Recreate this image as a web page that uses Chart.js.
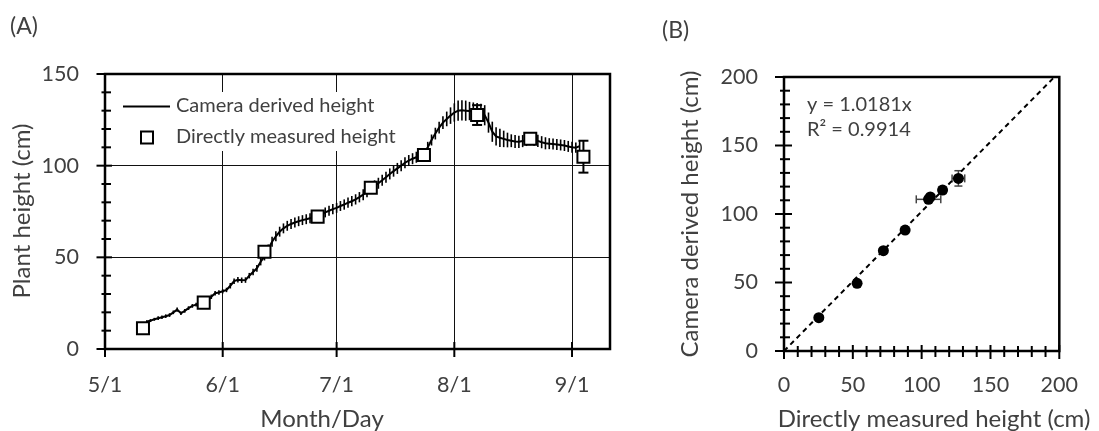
<!DOCTYPE html>
<html><head><meta charset="utf-8">
<script src="https://cdn.jsdelivr.net/npm/chart.js@4.4.0/dist/chart.umd.min.js"></script>
<style>
html,body{margin:0;padding:0;background:#fff;}
#wrap{position:relative;width:1099px;height:431px;overflow:hidden;background:#fff;}
canvas{position:absolute;top:0;}
#ca{left:0;} #cb{left:640px;}
</style></head><body>
<div id="wrap"><canvas id="ca" width="640" height="431"></canvas><canvas id="cb" width="459" height="431"></canvas></div>
<script>
// ---------- DATA ----------
// Panel A: x axis = days since 5/1
const monthTickDays = [0, 31, 61, 92, 123];
const monthTickLabels = ['5/1', '6/1', '7/1', '8/1', '9/1'];
const yTicksA = [0, 50, 100, 150];
const cameraStartDay = 11; // 5/12, one value per day
const cameraHeight = [
  14.9,15.5,16.2,16.8,17.3,17.9,18.5,20.0,21.5,19.5,
  20.8,22.3,23.5,24.2,25.0,25.6,26.5,28.5,30.4,30.8,
  31.5,32.2,34.5,37.0,37.8,37.5,37.6,40.0,42.0,44.0,
  47.6,50.5,54.5,58.5,61.5,64.0,65.8,67.2,68.2,69.0,
  69.7,70.3,70.8,71.3,71.8,72.2,73.3,74.5,75.4,76.3,
  77.0,78.0,78.8,79.8,80.6,81.6,82.8,84.2,85.8,87.6,
  89.0,90.4,92.0,93.7,95.5,97.0,98.5,100.0,101.6,102.8,
  103.8,104.6,105.4,106.5,110.0,114.0,117.5,120.8,123.5,125.5,
  127.3,129.0,130.0,130.2,130.0,129.8,129.5,129.2,128.8,127.5,
  123.5,118.5,116.0,115.2,114.6,114.0,113.6,113.2,113.0,113.4,
  114.0,114.5,114.2,113.5,112.8,112.2,112.0,111.8,111.6,111.3,
  111.0,110.5,110.0,109.8,110.7
];
const cameraSD = [
  0.8,0.8,0.8,1,1,1,1,1,1.2,1, 1,1,1,1,1,1,1.2,1.2,1.2,1.2,
  1.2,1.2,1.5,1.5,1.5,1.5,1.5,1.5,1.8,1.8,
  2,2.2,2.5,2.7,2.7,2.7,2.7,2.7,2.7,2.7,2.7,2.7,2.7,2.7,2.7,2.7,
  2.5,2.7,2.7,2.8,2.7,2.7,2.8,2.8,2.8,2.8,2.8,3,3,3,3,3,3,3,3,3,3,3,3,3,3,3,3,
  3,3,3,3.2,3.2,3.5,4,4.5,5,5.5,5.5,5.5,5,5,5,5,5.5,
  5.5,5.5,5,5,4.5,4,3.5,3.5,3.3,3.3,3.3,3.3,3.3,3.3,3.3,3.3,3,3,3,3,3,3,3,2.8,2.8
];
const measuredDays = [10, 26, 42, 56, 70, 84, 98, 112, 126];
const measuredHeight = [11.3, 25.3, 53.1, 72.2, 88.0, 105.8, 127.6, 114.7, 104.9];
const measuredSD = [1, 1, 1.2, 1.2, 1.5, 1.5, 5.4, 3, 8.7];

// Panel B
const xyTicksB = [0, 50, 100, 150, 200];
const directX   = [25.3, 53.1, 72.2, 88.0, 106.3, 105.0, 115.2, 126.7];
const cameraY   = [24.3, 49.4, 73.2, 88.3, 112.5, 110.7, 117.5, 126.0];
const directXErr = [1, 1, 1, 1, 1.5, 8.9, 2, 4.6];
const cameraYErr = [0.5, 1, 1, 1, 1.5, 2, 2.5, 5.6];
const fitSlope = 1.0181;
const fitR2 = '0.9914';

// ---------- STYLE ----------
const FONT = 'Lato';
const TXT = '#404040';
const TICK_SIZE = 21.5, TITLE_SIZE = 24, NOTE_SIZE = 20, PANEL_SIZE = 23;

function line(ctx, x1, y1, x2, y2) { ctx.beginPath(); ctx.moveTo(x1, y1); ctx.lineTo(x2, y2); ctx.stroke(); }

const pluginA = {
  id: 'pA',
  beforeDatasetsDraw(chart) {
    const ctx = chart.ctx, xs = chart.scales.x, ys = chart.scales.y;
    ctx.save();
    ctx.fillStyle = '#fff';
    ctx.fillRect(112, 92, 300, 59);
    ctx.strokeStyle = '#000'; ctx.lineWidth = 2;
    line(ctx, 123, 106.5, 170, 106.5);
    ctx.fillStyle = '#fff';
    ctx.fillRect(141, 131.5, 12, 12); ctx.strokeRect(141, 131.5, 12, 12);
    ctx.fillStyle = TXT; ctx.font = NOTE_SIZE + 'px ' + FONT; ctx.textBaseline = 'middle'; ctx.textAlign = 'left';
    ctx.fillText('Camera derived height', 176, 106);
    ctx.fillText('Directly measured height', 176, 137);
    ctx.strokeStyle = '#000'; ctx.lineWidth = 1.6;
    cameraHeight.forEach((v, i) => {
      const x = xs.getPixelForValue(cameraStartDay + i);
      line(ctx, x, ys.getPixelForValue(v - cameraSD[i]), x, ys.getPixelForValue(v + cameraSD[i]));
    });
    ctx.lineWidth = 2;
    measuredHeight.forEach((v, i) => {
      const x = xs.getPixelForValue(measuredDays[i]);
      const y1 = ys.getPixelForValue(v - measuredSD[i]), y2 = ys.getPixelForValue(v + measuredSD[i]);
      line(ctx, x, y1, x, y2); line(ctx, x - 5, y1, x + 5, y1); line(ctx, x - 5, y2, x + 5, y2);
    });
    ctx.restore();
  },
  afterDraw(chart) {
    const ctx = chart.ctx, a = chart.chartArea, xs = chart.scales.x, ys = chart.scales.y;
    ctx.save();
    ctx.strokeStyle = '#000'; ctx.lineWidth = 2.5;
    ctx.strokeRect(a.left, a.top, a.right - a.left, a.bottom - a.top);
    ctx.lineWidth = 2;
    for (let v = 0; v <= 150; v += 10) {
      const y = ys.getPixelForValue(v);
      if (v % 50 === 0) line(ctx, a.left - 8.5, y, a.left + 7, y);
      else line(ctx, a.left - 3.5, y, a.left + 6, y);
    }
    monthTickDays.forEach(d => { const x = xs.getPixelForValue(d); line(ctx, x, a.bottom - 7, x, a.bottom + 8); });
    ctx.fillStyle = TXT; ctx.textBaseline = 'middle'; ctx.textAlign = 'center';
    ctx.font = TITLE_SIZE + 'px ' + FONT;
    ctx.fillText('Month/Day', 322, 419);
    ctx.save(); ctx.translate(22, 211); ctx.rotate(-Math.PI / 2); ctx.fillText('Plant height (cm)', 0, 0); ctx.restore();
    ctx.textAlign = 'left'; ctx.font = PANEL_SIZE + 'px ' + FONT;
    ctx.fillText('(A)', 10, 27);
    ctx.restore();
  }
};

const pluginB = {
  id: 'pB',
  beforeDatasetsDraw(chart) {
    const ctx = chart.ctx, xs = chart.scales.x, ys = chart.scales.y;
    ctx.save();
    ctx.strokeStyle = '#444'; ctx.lineWidth = 1.5;
    directX.forEach((xv, i) => {
      const yv = cameraY[i];
      const x = xs.getPixelForValue(xv), y = ys.getPixelForValue(yv);
      const x1 = xs.getPixelForValue(xv - directXErr[i]), x2 = xs.getPixelForValue(xv + directXErr[i]);
      const y1 = ys.getPixelForValue(yv - cameraYErr[i]), y2 = ys.getPixelForValue(yv + cameraYErr[i]);
      line(ctx, x1, y, x2, y); line(ctx, x1, y - 4, x1, y + 4); line(ctx, x2, y - 4, x2, y + 4);
      line(ctx, x, y1, x, y2); line(ctx, x - 4, y1, x + 4, y1); line(ctx, x - 4, y2, x + 4, y2);
    });
    ctx.restore();
  },
  afterDraw(chart) {
    const ctx = chart.ctx, a = chart.chartArea, xs = chart.scales.x, ys = chart.scales.y;
    ctx.save();
    ctx.strokeStyle = '#000'; ctx.lineWidth = 2.5;
    ctx.strokeRect(a.left, a.top, a.right - a.left, a.bottom - a.top);
    ctx.lineWidth = 2;
    for (let v = 0; v <= 200; v += 10) {
      const y = ys.getPixelForValue(v), x = xs.getPixelForValue(v);
      if (v % 50 === 0) { line(ctx, a.left - 9, y, a.left + 8, y); line(ctx, x, a.bottom - 6, x, a.bottom + 8); }
      else { line(ctx, a.left - 4, y, a.left + 6, y); line(ctx, x, a.bottom - 5, x, a.bottom + 6); }
    }
    ctx.fillStyle = TXT; ctx.textBaseline = 'middle'; ctx.textAlign = 'left';
    ctx.font = NOTE_SIZE + 'px ' + FONT;
    ctx.fillText('y = ' + fitSlope.toFixed(4) + 'x', 167, 105);
    ctx.fillText('R² = ' + fitR2, 167, 130);
    ctx.textAlign = 'center'; ctx.font = TITLE_SIZE + 'px ' + FONT;
    ctx.fillText('Directly measured height (cm)', 294, 419);
    ctx.save(); ctx.translate(50, 214); ctx.rotate(-Math.PI / 2); ctx.fillText('Camera derived height (cm)', 0, 0); ctx.restore();
    ctx.textAlign = 'left'; ctx.font = PANEL_SIZE + 'px ' + FONT;
    ctx.fillText('(B)', 22, 31);
    ctx.restore();
  }
};

function tickFont() { return { family: FONT, size: TICK_SIZE }; }

function draw() {
  new Chart(document.getElementById('ca'), {
    type: 'line',
    data: { datasets: [
      { label: 'Directly measured height', data: measuredDays.map((d, i) => ({ x: d, y: measuredHeight[i] })),
        showLine: false, pointStyle: 'rect', pointRadius: 8.5, pointBackgroundColor: '#fff',
        pointBorderColor: '#000', pointBorderWidth: 2 },
      { label: 'Camera derived height', data: cameraHeight.map((v, i) => ({ x: cameraStartDay + i, y: v })),
        borderColor: '#000', borderWidth: 2, pointRadius: 0, tension: 0, fill: false }
    ] },
    options: {
      responsive: false, animation: false, devicePixelRatio: 1,
      layout: { padding: { left: 0, top: 74, right: 30, bottom: 0 } },
      plugins: { legend: { display: false }, tooltip: { enabled: false } },
      scales: {
        x: { type: 'linear', min: 0, max: 133,
          afterBuildTicks: s => { s.ticks = monthTickDays.map(v => ({ value: v })); },
          ticks: { autoSkip: false, maxRotation: 0, padding: 23, font: tickFont(), color: TXT,
            callback: v => monthTickLabels[monthTickDays.indexOf(v)] },
          grid: { color: '#111', lineWidth: 1, drawTicks: false }, border: { display: false },
          afterFit: s => { s.height = 82; } },
        y: { type: 'linear', min: 0, max: 150,
          afterBuildTicks: s => { s.ticks = yTicksA.map(v => ({ value: v })); },
          ticks: { padding: 26, font: tickFont(), color: TXT },
          grid: { color: '#111', lineWidth: 1, drawTicks: false }, border: { display: false },
          afterFit: s => { s.width = 105; } }
      }
    },
    plugins: [pluginA]
  });

  new Chart(document.getElementById('cb'), {
    type: 'scatter',
    data: { datasets: [
      { label: 'points', data: directX.map((x, i) => ({ x: x, y: cameraY[i] })),
        pointRadius: 5.5, pointBackgroundColor: '#000', pointBorderColor: '#000', pointBorderWidth: 0 },
      { type: 'line', label: 'fit', data: [{ x: 0, y: 0 }, { x: 200, y: 200 * fitSlope }],
        borderColor: '#000', borderWidth: 2, borderDash: [5, 4], pointRadius: 0, fill: false }
    ] },
    options: {
      responsive: false, animation: false, devicePixelRatio: 1,
      layout: { padding: { left: 0, top: 77, right: 24, bottom: 0 } },
      plugins: { legend: { display: false }, tooltip: { enabled: false } },
      scales: {
        x: { type: 'linear', min: 0, max: 200,
          afterBuildTicks: s => { s.ticks = xyTicksB.map(v => ({ value: v })); },
          ticks: { autoSkip: false, maxRotation: 0, padding: 21, font: tickFont(), color: TXT },
          grid: { display: false, drawTicks: false }, border: { display: false },
          afterFit: s => { s.height = 80; } },
        y: { type: 'linear', min: 0, max: 200,
          afterBuildTicks: s => { s.ticks = xyTicksB.map(v => ({ value: v })); },
          ticks: { padding: 26, font: tickFont(), color: TXT },
          grid: { display: false, drawTicks: false }, border: { display: false },
          afterFit: s => { s.width = 144; } }
      }
    },
    plugins: [pluginB]
  });
}
if (document.fonts && document.fonts.load) {
  Promise.all([document.fonts.load('20px Lato')]).then(draw, draw);
} else draw();
</script>
</body></html>
